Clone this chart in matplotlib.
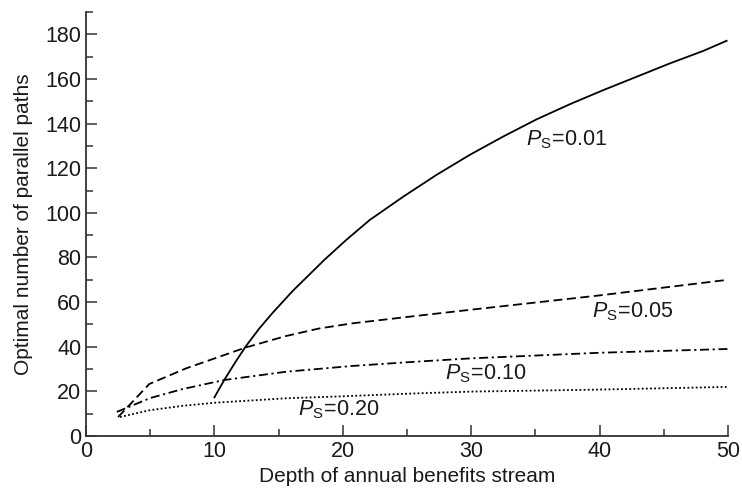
import matplotlib
matplotlib.use("Agg")
import matplotlib.pyplot as plt
from matplotlib.ticker import MultipleLocator

plt.rcParams['font.family'] = ['Liberation Sans', 'DejaVu Sans']
plt.rcParams['mathtext.fontset'] = 'custom'
plt.rcParams['mathtext.rm'] = 'Liberation Sans'
plt.rcParams['mathtext.it'] = 'Liberation Sans:italic'

# P_S = 0.01
x_001 = [10.0, 10.77, 11.68, 12.46, 13.5, 14.54, 16.1, 18.56, 20.3, 22.1, 24.7, 27.3,
         29.9, 32.5, 35.1, 37.7, 40.3, 42.9, 45.5, 48.1, 49.9]
y_001 = [17.3, 25.1, 33.5, 40.3, 48.2, 55.2, 65.0, 78.9, 88, 96.8, 107.2, 117.0,
         126.0, 134.2, 141.9, 148.7, 155, 161, 167, 172.6, 177.1]
# P_S = 0.05
x_005 = [2.5, 4.93, 7.79, 10.38, 12.46, 15.58, 18.17, 20.77, 25.7, 30, 40, 50]
y_005 = [8.5, 23.3, 30.3, 35.5, 39.7, 44.8, 48.2, 50.5, 53.8, 56.6, 63, 70]
# P_S = 0.10
x_010 = [2.4, 5, 7.5, 10.77, 15.58, 20.77, 25.7, 30, 40, 50]
y_010 = [10.8, 17, 21, 25.1, 28.8, 31.4, 33.3, 34.8, 37.3, 39]
# P_S = 0.20
x_020 = [2.65, 5, 7.5, 10, 15.6, 20, 25.7, 30, 40, 50]
y_020 = [8.5, 11.6, 13.5, 14.9, 16.9, 17.8, 19.1, 19.9, 20.8, 22]

labels = ['0.01', '0.05', '0.10', '0.20']
label_pos = [(34.3, 132.6), (39.4, 55.5), (28.0, 28.0), (16.5, 12.0)]

fig = plt.figure(figsize=(7.42, 4.93), dpi=100)
ax = fig.add_axes([0.1159, 0.1156, 0.981 - 0.1159, 0.9757 - 0.1156])

lw = 1.3
ax.plot(x_001, y_001, color='black', lw=lw, linestyle='-')
ax.plot(x_005, y_005, color='black', lw=lw, linestyle=(0, (5, 2.5)))
ax.plot(x_010, y_010, color='black', lw=lw, linestyle=(0, (5, 2, 1.2, 2)))
ax.plot(x_020, y_020, color='black', lw=lw, linestyle=(0, (1, 1.3)))

for lab, (lx, ly) in zip(labels, label_pos):
    ax.text(lx, ly, r'$P_\mathrm{S}\!=\!' + lab + '$', fontsize=15.5,
            ha='left', va='center', color='#1a1a1a')

ax.set_xlim(0, 50)
ax.set_ylim(0, 190)
ax.xaxis.set_major_locator(MultipleLocator(10))
ax.xaxis.set_minor_locator(MultipleLocator(5))
ax.yaxis.set_minor_locator(MultipleLocator(10))
ax.set_yticks(range(0, 181, 20))
ax.tick_params(which='major', direction='in', length=8, width=1.1, labelsize=15.5,
               color='#333333', labelcolor='#1a1a1a')
ax.tick_params(which='minor', direction='in', length=5, width=1.1, color='#333333')
ax.spines['top'].set_visible(False)
ax.spines['right'].set_visible(False)
for s in ('left', 'bottom'):
    ax.spines[s].set_linewidth(1.3)
    ax.spines[s].set_color('#333333')

ax.set_xlabel('Depth of annual benefits stream', fontsize=15, color='#1a1a1a', labelpad=4)
ax.set_ylabel('Optimal number of parallel paths', fontsize=15, color='#1a1a1a', labelpad=9)

fig.savefig('out.png', dpi=100)
